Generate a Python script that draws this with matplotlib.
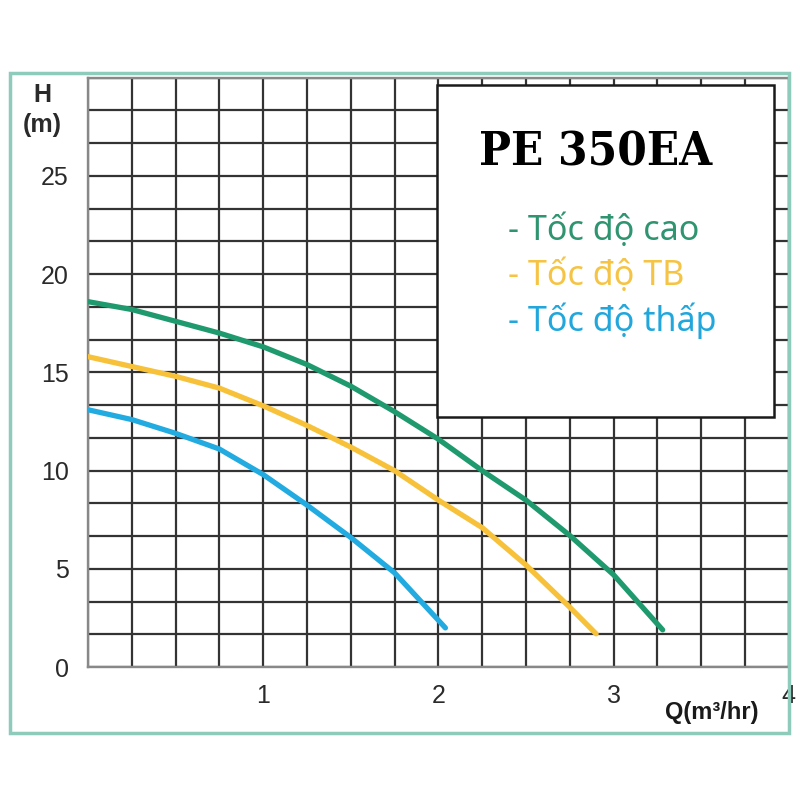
import numpy as np
import matplotlib.pyplot as plt
from matplotlib.patches import Rectangle

# pump curve PE 350EA
q_high = [0, 0.25, 0.5, 0.75, 1.0, 1.25, 1.5, 1.75, 2.0, 2.25, 2.5, 2.75, 3.0, 3.28]
h_high = [18.6, 18.2, 17.6, 17.0, 16.3, 15.4, 14.3, 13.0, 11.6, 10.0, 8.5, 6.7, 4.7, 1.9]

q_mid = [0, 0.25, 0.5, 0.75, 1.0, 1.25, 1.5, 1.75, 2.0, 2.25, 2.5, 2.75, 2.9]
h_mid = [15.8, 15.3, 14.8, 14.2, 13.3, 12.3, 11.2, 10.0, 8.5, 7.1, 5.2, 3.05, 1.7]

q_low = [0, 0.25, 0.5, 0.75, 1.0, 1.25, 1.5, 1.75, 2.04]
h_low = [13.1, 12.6, 11.9, 11.1, 9.8, 8.25, 6.6, 4.8, 2.0]

labels = ['- Tốc độ cao', '- Tốc độ TB', '- Tốc độ thấp']
colors = ['#1e9a6e', '#f7c13a', '#22abe0']
text_colors = ['#2f9470', '#f6c445', '#22a7dc']

x_ticks = [1, 2, 3, 4]
y_ticks = [0, 5, 10, 15, 20, 25]

plt.rcParams['font.family'] = ['Liberation Sans', 'DejaVu Sans']

fig = plt.figure(figsize=(8, 8), dpi=100)
ax = fig.add_axes([0.11, 0.166, 0.876, 0.737])

ax.plot(q_high, h_high, color=colors[0], lw=3.8, solid_capstyle='round', zorder=3)
ax.plot(q_mid, h_mid, color=colors[1], lw=3.8, solid_capstyle='round', zorder=3)
ax.plot(q_low, h_low, color=colors[2], lw=3.8, solid_capstyle='round', zorder=3)

ax.set_xlim(0, 4)
ax.set_ylim(0, 30)
ax.set_xticks(x_ticks)
ax.set_xticklabels([str(t) for t in x_ticks])
ax.set_yticks(y_ticks)
ax.set_yticklabels([str(t) for t in y_ticks])
ax.set_xticks(np.arange(0, 4.01, 0.25), minor=True)
ax.set_yticks(np.arange(0, 30.01, 5 / 3), minor=True)
# grid on both so the lines on the labelled ticks are kept
ax.grid(which='both', color='#333333', lw=1.6)
ax.tick_params(which='both', length=0)
ax.tick_params(axis='y', pad=14, labelsize=18, labelcolor='#2a2a2a')
ax.tick_params(axis='x', pad=12, labelsize=18, labelcolor='#2a2a2a')
for s in ax.spines.values():
    s.set_color('#888888')
    s.set_linewidth(1.7)
ax.set_axisbelow(True)

# outer frame
fig.patches.append(Rectangle((0.0125, 0.084), 0.974, 0.825, transform=fig.transFigure,
                             fill=False, edgecolor='#8fcbbb', lw=2.5, zorder=5))

# legend box
fig.patches.append(Rectangle((0.546, 0.479), 0.421, 0.415, transform=fig.transFigure,
                             facecolor='white', edgecolor='#1a1a1a', lw=1.8, zorder=6))
fig.text(0.744, 0.81, 'PE 350EA', family='DejaVu Serif', weight='bold', fontsize=34,
         stretch='condensed', ha='center', va='center', zorder=7)
for i, (lab, c) in enumerate(zip(labels, text_colors)):
    fig.text(0.635, 0.712 - i * 0.0565, lab, family='Noto Sans', fontsize=24.5,
             color=c, ha='left', va='center', zorder=7)

# axis titles
fig.text(0.0525, 0.881, 'H', fontsize=18, weight='bold', color='#2a2a2a', ha='center', va='center')
fig.text(0.0525, 0.844, '(m)', fontsize=18, weight='bold', color='#2a2a2a', ha='center', va='center')
fig.text(0.89, 0.109, 'Q(m³/hr)', fontsize=17, weight='bold', color='#1a1a1a', ha='center', va='center')

fig.savefig('out.png', dpi=100)
